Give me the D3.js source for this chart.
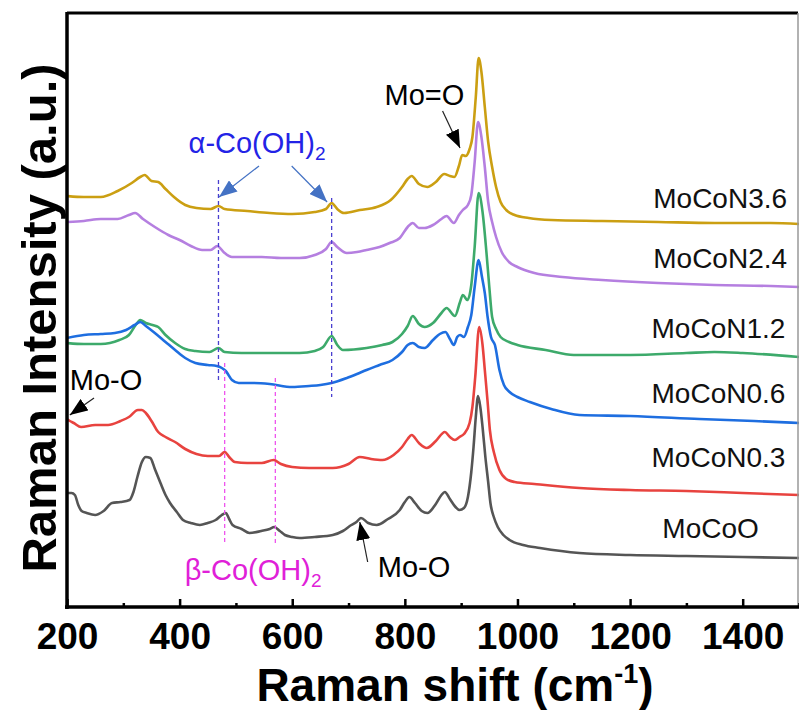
<!DOCTYPE html>
<html>
<head>
<meta charset="utf-8">
<script src="https://cdn.jsdelivr.net/npm/d3@7/dist/d3.min.js"></script>
<style>
  body { margin: 0; background: #fff; }
  svg { display: block; font-family: "Liberation Sans", Arial, sans-serif; }
</style>
</head>
<body>
<div id="chart"></div>
<script>
// spectra: [Raman shift (cm-1), intensity (a.u., stacked)]
const moCoN36 = [[200,411],[230,410],[260,410],[290,416],[315,424],[330,430],[338,432],[350,426],[362,425],[375,418],[390,410],[410,402],[430,399],[455,398],[469,401],[480,398],[520,396],[560,394],[600,393],[640,395],[660,398],[670,404],[680,398],[692,394],[720,397],[750,400],[775,407],[795,420],[805,428],[812,431],[825,423],[840,420],[855,425],[870,433],[880,431],[888,430],[896,441],[902,452],[908,451],[915,458],[920,470],[926,510],[931,549],[936,535],[942,500],[948,465],[955,440],[962,420],[970,405],[980,397],[995,392],[1020,389],[1060,387],[1150,386],[1250,385],[1350,384],[1450,384],[1500,383]];
const moCoN24 = [[200,385],[230,386],[260,388],[290,388],[310,392],[321,394],[335,388],[356,380],[380,372],[400,367],[420,361],[440,357],[455,357],[467,361],[478,355],[493,350],[520,350],[546,350],[580,349],[613,349],[640,352],[660,358],[670,365],[680,360],[697,354],[715,355],[732,357],[755,360],[773,364],[791,369],[805,380],[814,384],[825,379],[835,379],[850,382],[865,388],[874,391],[887,384],[896,392],[903,397],[912,402],[918,412],[924,445],[930,485],[936,470],[942,440],[948,405],[955,385],[962,370],[972,355],[985,345],[1000,340],[1030,334],[1080,330],[1150,327],[1250,324],[1350,322],[1450,321],[1500,320]];
const moCoN12 = [[200,264],[230,263],[260,263],[293,267],[310,272],[322,282],[330,287],[340,284],[352,282],[362,280],[375,272],[392,264],[410,258],[428,256],[453,255],[469,259],[480,255],[510,254],[546,254],[580,254],[613,254],[640,256],[655,260],[670,271],[680,262],[690,257],[732,259],[760,262],[778,265],[795,273],[805,281],[814,291],[825,283],[835,280],[850,284],[865,294],[874,299],[889,291],[898,305],[903,312],[911,307],[918,322],[924,360],[931,414],[938,395],[945,354],[950,320],[955,290],[962,278],[970,270],[985,265],[1000,262],[1050,257],[1100,252],[1200,252],[1300,254],[1350,255],[1400,254],[1500,250]];
const moCoN06 = [[200,269],[230,272],[260,273],[285,274],[305,277],[320,282],[330,285],[340,281],[356,274],[375,265],[392,257],[410,249],[428,244],[450,242],[466,241],[475,239],[482,236],[493,227],[505,224],[530,224],[560,223],[600,220],[630,221],[650,222],[670,224],[697,229],[715,233],[732,237],[755,242],[778,247],[795,255],[805,262],[814,264],[825,260],[835,259],[850,267],[862,273],[872,275],[880,268],[887,262],[893,270],[898,272],[905,270],[912,280],[918,292],[924,320],[931,347],[937,330],[942,314],[947,290],[953,270],[960,262],[968,237],[976,222],[986,215],[1000,210],[1022,205],[1060,198],[1110,192],[1200,191],[1323,188],[1420,186],[1500,184]];
const moCoN03 = [[200,188],[205,186],[212,184],[225,180],[250,182],[273,182],[295,186],[310,190],[326,197],[333,197],[340,194],[350,186],[362,175],[375,170],[392,165],[410,158],[430,153],[450,151],[470,151],[480,155],[488,150],[498,145],[520,144],[546,144],[567,147],[580,143],[600,140],[630,139],[672,139],[700,143],[720,150],[740,148],[760,147],[780,152],[795,160],[805,168],[812,172],[825,164],[839,159],[855,166],[871,175],[880,170],[889,167],[897,170],[905,173],[915,184],[920,200],[925,230],[932,280],[938,262],[942,237],[947,205],[951,177],[958,155],[968,137],[980,128],[995,125],[1030,123],[1110,119],[1200,117],[1300,116],[1400,114],[1500,112]];
const moCoO = [[200,114],[208,114],[214,112],[220,102],[226,96],[235,94],[250,92],[265,96],[280,104],[295,105],[311,107],[318,115],[325,130],[333,145],[340,150],[348,149],[356,138],[366,124],[375,112],[383,104],[395,95],[406,87],[420,84],[436,82],[450,84],[464,87],[475,92],[482,94],[488,88],[494,82],[510,78],[524,74],[545,76],[560,78],[568,80],[578,76],[587,72],[600,70],[613,69],[640,70],[672,72],[690,76],[705,82],[714,85],[722,89],[735,84],[750,82],[770,88],[791,97],[800,105],[808,110],[818,104],[830,96],[840,94],[855,103],[865,112],[871,115],[880,108],[890,100],[897,97],[905,99],[912,110],[918,135],[922,160],[926,190],[930,211],[934,200],[938,180],[943,150],[948,125],[952,104],[958,90],[965,80],[975,72],[986,67],[1010,62],[1040,59],[1110,54],[1200,52],[1300,51],[1400,50],[1500,49]];

const seriesNames = ["MoCoN3.6", "MoCoN2.4", "MoCoN1.2", "MoCoN0.6", "MoCoN0.3", "MoCoO"];
const seriesData = [moCoN36, moCoN24, moCoN12, moCoN06, moCoN03, moCoO];
const seriesColors = ["#cb9f12", "#b57fe0", "#3daa6b", "#1e6ee0", "#e8433f", "#555555"];
const labelShift = [1360, 1360, 1357, 1357, 1357, 1343];
const labelLevel = [399, 339, 269, 204, 140, 69];

const majorTicks = [200, 400, 600, 800, 1000, 1200, 1400];
const minorTicks = [300, 500, 700, 900, 1100, 1300, 1500];

// band assignments marked with dashed guides
const alphaShifts = [469, 670];
const alphaSpan = [[227, 427], [210, 409]];
const betaShifts = [480, 570];
const betaSpan = [[62, 244], [62, 229]];

const width = 799, height = 710;
const x = d3.scaleLinear().domain([200, 1500]).range([67, 799]);
const y = d3.scaleLinear().domain([0, 594]).range([607, 13]);

const svg = d3.select("#chart").append("svg")
  .attr("width", width).attr("height", height);

const defs = svg.append("defs");
defs.append("clipPath").attr("id", "plot")
  .append("rect").attr("x", 68).attr("y", 14).attr("width", 731).attr("height", 592);

function arrowHead(id, color) {
  defs.append("marker")
    .attr("id", id)
    .attr("markerUnits", "userSpaceOnUse")
    .attr("viewBox", "0 0 18 14")
    .attr("refX", 18).attr("refY", 7)
    .attr("markerWidth", 18).attr("markerHeight", 14)
    .attr("orient", "auto")
    .append("path").attr("d", "M0,0L18,7L0,14Z").attr("fill", color);
}
arrowHead("headBlack", "#000");
arrowHead("headBlue", "#4472c4");

// spectra
const line = d3.line().x(d => x(d[0])).y(d => y(d[1])).curve(d3.curveMonotoneX);
svg.append("g").attr("clip-path", "url(#plot)")
  .selectAll("path")
  .data(seriesData)
  .join("path")
  .attr("d", line)
  .attr("fill", "none")
  .attr("stroke", (d, i) => seriesColors[i])
  .attr("stroke-width", 2.6)
  .attr("stroke-linejoin", "round");

// dashed guide lines
svg.append("g").selectAll("line")
  .data(alphaShifts)
  .join("line")
  .attr("x1", d => x(d)).attr("x2", d => x(d))
  .attr("y1", (d, i) => y(alphaSpan[i][1])).attr("y2", (d, i) => y(alphaSpan[i][0]))
  .attr("stroke", "#4a3fd0").attr("stroke-width", 1.3).attr("stroke-dasharray", "4,3");
svg.append("g").selectAll("line")
  .data(betaShifts)
  .join("line")
  .attr("x1", d => x(d)).attr("x2", d => x(d))
  .attr("y1", (d, i) => y(betaSpan[i][1])).attr("y2", (d, i) => y(betaSpan[i][0]))
  .attr("stroke", "#ee55ee").attr("stroke-width", 1.3).attr("stroke-dasharray", "4,3");

// series labels
svg.append("g").selectAll("text")
  .data(seriesNames)
  .join("text")
  .attr("x", (d, i) => x(labelShift[i]))
  .attr("y", (d, i) => y(labelLevel[i]))
  .attr("text-anchor", "middle")
  .attr("font-size", 28)
  .attr("fill", "#111")
  .text(d => d);

// annotations
const arrows = [
  { from: [248, 209], to: [205, 192], head: "headBlack", color: "#222" },
  { from: [867, 496], to: [898, 459], head: "headBlack", color: "#222" },
  { from: [734, 45], to: [720, 85], head: "headBlack", color: "#222" },
  { from: [541, 441], to: [470, 410], head: "headBlue", color: "#4472c4" },
  { from: [599, 441], to: [662, 405], head: "headBlue", color: "#4472c4" }
];
svg.append("g").selectAll("line")
  .data(arrows)
  .join("line")
  .attr("x1", d => x(d.from[0])).attr("y1", d => y(d.from[1]))
  .attr("x2", d => x(d.to[0])).attr("y2", d => y(d.to[1]))
  .attr("stroke", d => d.color).attr("stroke-width", 1.2)
  .attr("marker-end", d => `url(#${d.head})`);

const notes = [
  { text: "Mo=O", at: [764, 502], color: "#000" },
  { text: "Mo-O", at: [205, 217], color: "#000" },
  { text: "Mo-O", at: [752, 30], color: "#000" },
  { text: "α-Co(OH)", sub: "2", at: [416, 454], color: "#2323e6" },
  { text: "β-Co(OH)", sub: "2", at: [409, 27], color: "#e020d8" }
];
const noteText = svg.append("g").selectAll("text")
  .data(notes)
  .join("text")
  .attr("x", d => x(d.at[0])).attr("y", d => y(d.at[1]))
  .attr("font-size", 29)
  .attr("fill", d => d.color)
  .text(d => d.text);
noteText.filter(d => d.sub)
  .append("tspan")
  .attr("dy", 7).attr("font-size", 19)
  .text(d => d.sub);

// frame
const frame = svg.append("g");
frame.append("line").attr("x1", 67).attr("x2", 798).attr("y1", 13).attr("y2", 13)
  .attr("stroke", "#000").attr("stroke-width", 3);
frame.append("line").attr("x1", 798).attr("x2", 798).attr("y1", 13).attr("y2", 607)
  .attr("stroke", "#999").attr("stroke-width", 1.5);
frame.append("line").attr("x1", 67).attr("x2", 67).attr("y1", 12).attr("y2", 609)
  .attr("stroke", "#000").attr("stroke-width", 3.5);

// x axis
const gx = svg.append("g").attr("transform", "translate(0,607)");
gx.call(d3.axisBottom(x).tickValues(majorTicks).tickSize(-8).tickPadding(16).tickFormat(d3.format("d")));
gx.append("g")
  .call(d3.axisBottom(x).tickValues(minorTicks).tickSize(-4).tickFormat(""))
  .select(".domain").remove();
gx.select(".domain").attr("d", "M65,0H799").attr("stroke-width", 3.5);
gx.selectAll(".tick line").attr("stroke-width", 2.5);
gx.selectAll(".tick text")
  .attr("font-size", 37).attr("font-weight", "bold")
  .attr("font-family", "'Liberation Sans', Arial, sans-serif")
  .attr("fill", "#000");

// axis titles
const xTitle = svg.append("text")
  .attr("x", 455).attr("y", 701)
  .attr("text-anchor", "middle")
  .attr("font-size", 46).attr("font-weight", "bold");
xTitle.append("tspan").text("Raman shift (cm");
xTitle.append("tspan").attr("dy", -18).attr("font-size", 27).text("-1");
xTitle.append("tspan").attr("dy", 18).text(")");

svg.append("text")
  .attr("transform", "translate(56,318) rotate(-90)")
  .attr("text-anchor", "middle")
  .attr("font-size", 49).attr("font-weight", "bold")
  .text("Raman Intensity (a.u.)");
</script>
</body>
</html>
